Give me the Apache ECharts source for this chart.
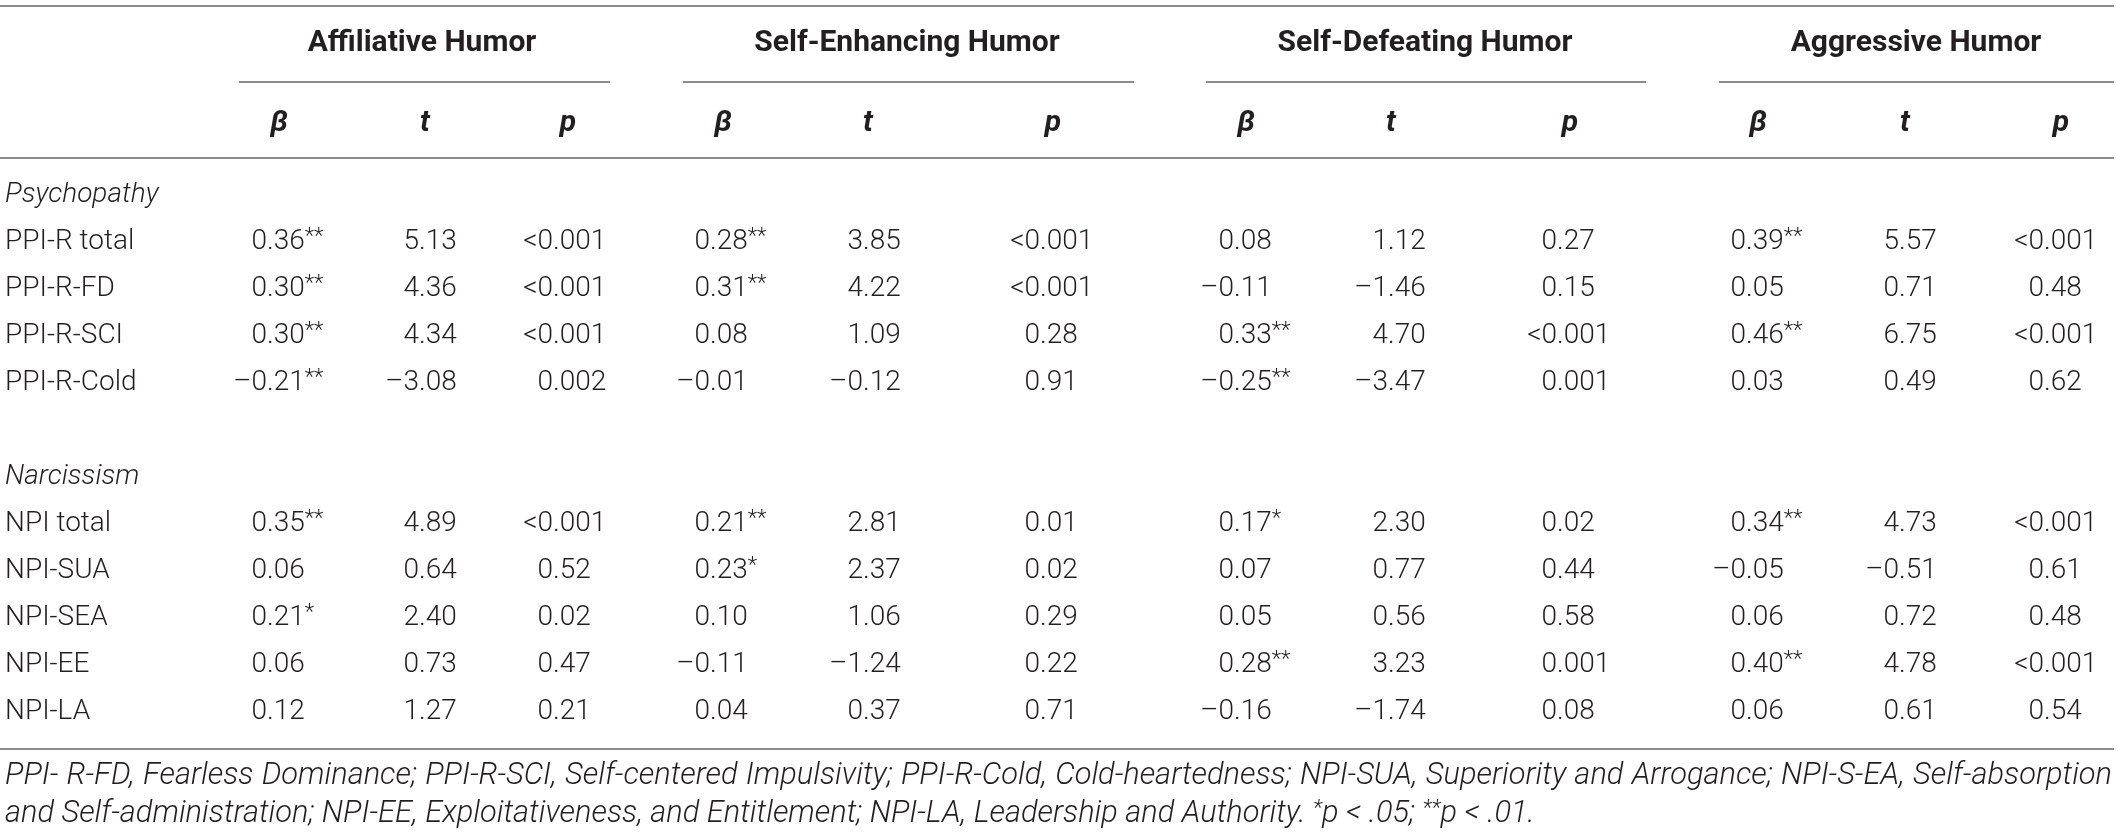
<!DOCTYPE html>
<html>
<head>
<meta charset="utf-8">
<script src="https://cdn.jsdelivr.net/npm/echarts@6/dist/echarts.min.js"></script>
<style>
html, body { margin: 0; padding: 0; background: #fff; }
#main { width: 2118px; height: 836px; }
</style>
</head>
<body>
<div id="main"></div>
<script>
// row categories (blank row separates the two blocks)
var rowLabels = ['Psychopathy', 'PPI-R total', 'PPI-R-FD', 'PPI-R-SCI', 'PPI-R-Cold', ' ',
                 'Narcissism', 'NPI total', 'NPI-SUA', 'NPI-SEA', 'NPI-EE', 'NPI-LA'];
var sectionRows = [0, 6];
var dataRows = [1, 2, 3, 4, 7, 8, 9, 10, 11];

var groups = ['Affiliative Humor', 'Self-Enhancing Humor', 'Self-Defeating Humor', 'Aggressive Humor'];
var statHeads = ['β', 't', 'p'];

// Affiliative
var affBeta = ['0.36**', '0.30**', '0.30**', '–0.21**', '0.35**', '0.06', '0.21*', '0.06', '0.12'];
var affT    = ['5.13', '4.36', '4.34', '–3.08', '4.89', '0.64', '2.40', '0.73', '1.27'];
var affP    = ['<0.001', '<0.001', '<0.001', '0.002', '<0.001', '0.52', '0.02', '0.47', '0.21'];
// Self-Enhancing
var enhBeta = ['0.28**', '0.31**', '0.08', '–0.01', '0.21**', '0.23*', '0.10', '–0.11', '0.04'];
var enhT    = ['3.85', '4.22', '1.09', '–0.12', '2.81', '2.37', '1.06', '–1.24', '0.37'];
var enhP    = ['<0.001', '<0.001', '0.28', '0.91', '0.01', '0.02', '0.29', '0.22', '0.71'];
// Self-Defeating
var defBeta = ['0.08', '–0.11', '0.33**', '–0.25**', '0.17*', '0.07', '0.05', '0.28**', '–0.16'];
var defT    = ['1.12', '–1.46', '4.70', '–3.47', '2.30', '0.77', '0.56', '3.23', '–1.74'];
var defP    = ['0.27', '0.15', '<0.001', '0.001', '0.02', '0.44', '0.58', '0.001', '0.08'];
// Aggressive
var aggBeta = ['0.39**', '0.05', '0.46**', '0.03', '0.34**', '–0.05', '0.06', '0.40**', '0.06'];
var aggT    = ['5.57', '0.71', '6.75', '0.49', '4.73', '–0.51', '0.72', '4.78', '0.61'];
var aggP    = ['<0.001', '0.48', '<0.001', '0.62', '<0.001', '0.61', '0.48', '<0.001', '0.54'];

var columns = [affBeta, affT, affP, enhBeta, enhT, enhP, defBeta, defT, defP, aggBeta, aggT, aggP];

var noteLine1 = 'PPI- R-FD, Fearless Dominance; PPI-R-SCI, Self-centered Impulsivity; PPI-R-Cold, Cold-heartedness; NPI-SUA, Superiority and Arrogance; NPI-S-EA, Self-absorption';
var noteLine2 = 'and Self-administration; NPI-EE, Exploitativeness, and Entitlement; NPI-LA, Leadership and Authority. ';

// layout (decimal-point anchors, header centres, rules)
var colAnchor  = [267, 419, 553, 710, 863, 1040, 1234, 1388, 1557, 1746, 1899, 2044];
var headCenter = [279, 425, 568, 723, 868, 1053, 1246, 1391, 1570, 1758, 1905, 2061];
var groupCenter = [422, 907, 1425, 1916];
var groupRule = [[239, 610], [683, 1134], [1206, 1646], [1719, 2114]];

var W = 2118, H = 836;
var FONT = 'Roboto, "Liberation Sans", Arial, sans-serif';
var INK = '#231f20';
var RULE = '#8c8c8c';
var FS = 28;
var HEAD_FS = 30;
var STAR_FS = 22;

// cells for the custom series
var cells = [];
rowLabels.forEach(function (lab, r) {
    if (lab.trim()) cells.push({ value: [5, r], text: lab, kind: 'label', italic: sectionRows.indexOf(r) >= 0 });
});
columns.forEach(function (col, c) {
    col.forEach(function (txt, i) {
        cells.push({ value: [colAnchor[c], dataRows[i]], text: txt, kind: 'num' });
    });
});

var chart = echarts.init(document.getElementById('main'), null, { renderer: 'canvas' });

function numText(x, y, txt, align) {
    return {
        type: 'text', x: x, y: y,
        style: {
            text: txt, fill: INK, fontSize: FS, fontFamily: FONT, fontWeight: 300,
            align: align, verticalAlign: 'middle',
            rich: {
                n: { fontSize: FS, fontFamily: FONT, fontWeight: 300, fill: INK, lineHeight: 32 },
                s: { fontSize: STAR_FS, fontFamily: FONT, fontWeight: 300, fill: INK, lineHeight: 32, verticalAlign: 'top' }
            }
        }
    };
}

function renderCell(params, api) {
    var cell = cells[params.dataIndex];
    var pt = api.coord([api.value(0), api.value(1)]);
    if (cell.kind === 'label') {
        return {
            type: 'text', x: pt[0], y: pt[1],
            style: {
                text: cell.text, fill: INK, fontSize: FS, fontFamily: FONT, fontWeight: 300,
                fontStyle: cell.italic ? 'italic' : 'normal', align: 'left', verticalAlign: 'middle'
            }
        };
    }
    var m = cell.text.match(/^([^.]*)(\.\d+)(\**)$/);
    var frac = '{n|' + m[2] + '}' + (m[3] ? '{s|' + m[3] + '}' : '');
    return {
        type: 'group',
        children: [numText(pt[0], pt[1], m[1], 'right'), numText(pt[0], pt[1], frac, 'left')]
    };
}

// measure words so the first note line can fill the width like the source
var measureCtx = document.createElement('canvas').getContext('2d');
function noteFont(size) { return 'italic 300 ' + size + 'px Roboto'; }
function textWidth(t, font) {
    measureCtx.font = font;
    return measureCtx.measureText(t).width;
}
var NOTE_FS = Math.min(32, Math.floor(100 * 2100 / textWidth(noteLine1, noteFont(100)) * 10) / 10);
function noteStyle(t) {
    return { text: t, fill: INK, fontSize: NOTE_FS, fontFamily: FONT, fontWeight: 300, fontStyle: 'italic',
             align: 'left', verticalAlign: 'middle' };
}

var graphics = [];
function hline(x1, x2, y) {
    graphics.push({ type: 'line', shape: { x1: x1, y1: y, x2: x2, y2: y }, style: { stroke: RULE, lineWidth: 2 }, silent: true });
}
hline(0, 2114, 6);
hline(0, 2114, 158);
hline(0, 2114, 749);
groupRule.forEach(function (g) { hline(g[0], g[1], 82); });

groups.forEach(function (g, i) {
    graphics.push({ type: 'text', x: groupCenter[i], y: 43,
        style: { text: g, fill: INK, fontSize: HEAD_FS, fontFamily: FONT, fontWeight: 'bold', align: 'center', verticalAlign: 'middle' } });
});
headCenter.forEach(function (x, i) {
    graphics.push({ type: 'text', x: x, y: 123,
        style: { text: statHeads[i % 3], fill: INK, fontSize: HEAD_FS, fontFamily: FONT, fontWeight: 'bold', fontStyle: 'italic',
                 align: 'center', verticalAlign: 'middle' } });
});

// note line 1, justified between the margins
(function () {
    var f = noteFont(NOTE_FS);
    var words = noteLine1.split(' ');
    var widths = words.map(function (w) { return textWidth(w, f); });
    var total = widths.reduce(function (a, b) { return a + b; }, 0);
    var gap = (2112 - 5 - total) / (words.length - 1);
    var x = 5;
    words.forEach(function (w, i) {
        graphics.push({ type: 'text', x: x, y: 776, style: noteStyle(w) });
        x += widths[i] + gap;
    });
})();
graphics.push({ type: 'text', x: 5, y: 814,
    style: {
        text: '{i|' + noteLine2 + '}{s|*}{i|p < .05; }{s|**}{i|p < .01.}',
        verticalAlign: 'middle', align: 'left',
        rich: {
            i: { fill: INK, fontSize: NOTE_FS, fontFamily: FONT, fontWeight: 300, fontStyle: 'italic', lineHeight: 32 },
            s: { fill: INK, fontSize: STAR_FS, fontFamily: FONT, fontWeight: 300, fontStyle: 'italic', lineHeight: 32, verticalAlign: 'top' }
        }
    } });

var option = {
    backgroundColor: '#fff',
    animation: false,
    grid: { left: 0, right: 0, top: 171.5, height: 564 },
    xAxis: { type: 'value', min: 0, max: W, show: false },
    yAxis: { type: 'category', data: rowLabels, inverse: true, show: false },
    graphic: graphics,
    series: [{
        type: 'custom',
        coordinateSystem: 'cartesian2d',
        renderItem: renderCell,
        encode: { x: 0, y: 1 },
        data: cells.map(function (c) { return c.value; }),
        silent: true,
        clip: false
    }]
};
chart.setOption(option);
</script>
</body>
</html>
